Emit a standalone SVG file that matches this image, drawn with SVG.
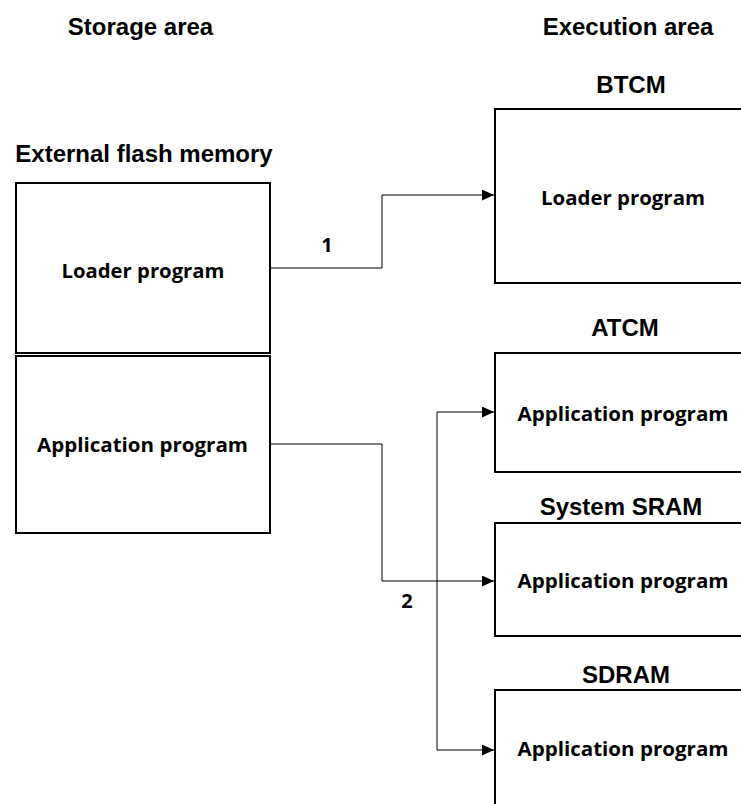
<svg xmlns="http://www.w3.org/2000/svg" width="741" height="804" viewBox="0 0 741 804">
<style>
.title{font-family:"Liberation Sans",Arial,sans-serif;font-weight:bold;font-size:24px;fill:#000;text-anchor:middle}
.lbl{font-family:"Open Sans","Noto Sans",sans-serif;font-weight:bold;font-size:20px;fill:#000;text-anchor:middle}
.box{fill:#fff;stroke:#000;stroke-width:2}
.conn{fill:none;stroke:#000;stroke-width:1}
</style>
<defs>
<marker id="arr" markerUnits="userSpaceOnUse" markerWidth="12" markerHeight="11" refX="12" refY="5.5" orient="auto">
<path d="M0,0 L12,5.5 L0,11 Z" fill="#000"/>
</marker>
</defs>
<rect width="741" height="804" fill="#fff"/>
<text class="title" x="140.5" y="35">Storage area</text>
<text class="title" x="628" y="35">Execution area</text>
<text class="title" x="144" y="162">External flash memory</text>

<g id="flash-loader">
<rect class="box" x="16" y="183" width="254" height="170"/>
<text class="lbl" x="143" y="278" textLength="163" lengthAdjust="spacingAndGlyphs">Loader program</text>
</g>
<g id="flash-app">
<rect class="box" x="16" y="356" width="254" height="177"/>
<text class="lbl" x="142.5" y="452" textLength="211" lengthAdjust="spacingAndGlyphs">Application program</text>
</g>

<g id="btcm">
<text class="title" x="631" y="93">BTCM</text>
<rect class="box" x="495" y="109" width="260" height="174"/>
<text class="lbl" x="623" y="205" textLength="164" lengthAdjust="spacingAndGlyphs">Loader program</text>
</g>
<g id="atcm">
<text class="title" x="625" y="336">ATCM</text>
<rect class="box" x="495" y="353" width="260" height="119"/>
<text class="lbl" x="623" y="421" textLength="211" lengthAdjust="spacingAndGlyphs">Application program</text>
</g>
<g id="sram">
<text class="title" x="621" y="515">System SRAM</text>
<rect class="box" x="495" y="523" width="260" height="113"/>
<text class="lbl" x="623" y="588" textLength="211" lengthAdjust="spacingAndGlyphs">Application program</text>
</g>
<g id="sdram">
<text class="title" x="626" y="683">SDRAM</text>
<rect class="box" x="495" y="690" width="260" height="130"/>
<text class="lbl" x="623" y="756" textLength="211" lengthAdjust="spacingAndGlyphs">Application program</text>
</g>

<g id="connectors">
<path class="conn" d="M270,268 H382 V195 H494" marker-end="url(#arr)"/>
<path class="conn" d="M270,444 H382 V581 H494" marker-end="url(#arr)"/>
<path class="conn" d="M437,412 V750 H494" marker-end="url(#arr)"/>
<path class="conn" d="M437,412 H494" marker-end="url(#arr)"/>
<text class="lbl" x="327" y="252">1</text>
<text class="lbl" x="407" y="608">2</text>
</g>
</svg>
